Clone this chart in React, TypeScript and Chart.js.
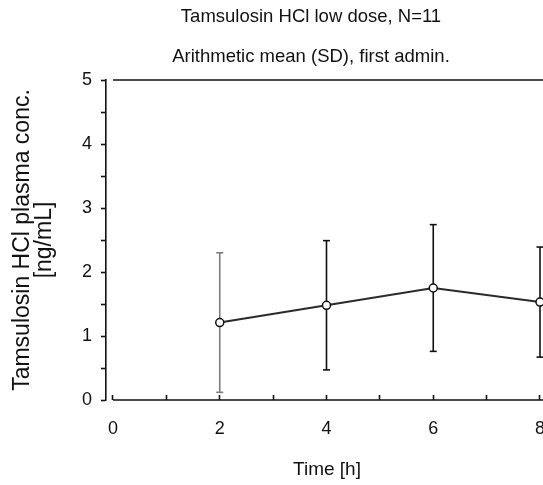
import React, { useEffect, useRef } from 'react';
import { Chart, registerables } from 'chart.js';

Chart.register(...registerables);

const titleText = 'Tamsulosin HCl low dose, N=11';
const subtitleText = 'Arithmetic mean (SD), first admin.';
const yTitleLines = ['Tamsulosin HCl plasma conc.', '[ng/mL]'];
const xTitleText = 'Time [h]';

const times = [2, 4, 6, 8];
const means = [1.21, 1.48, 1.75, 1.53];
const sds = [1.09, 1.01, 0.99, 0.86];
const errorColors = ['#7c7c7c', '#111111', '#111111', '#111111'];

const xLabelledTicks = [0, 2, 4, 6, 8];
const yLabelledTicks = [0, 1, 2, 3, 4, 5];

const FONT = '"Liberation Sans", Arial, Helvetica, sans-serif';

const framePlugin = {
  id: 'frameLines',
  beforeDatasetsDraw(chart: any) {
    const { ctx, chartArea } = chart;
    const x0 = chart.scales.x.getPixelForValue(0);
    ctx.save();
    ctx.strokeStyle = '#111111';
    ctx.lineWidth = 1.6;
    ctx.beginPath();
    ctx.moveTo(x0, chartArea.top);
    ctx.lineTo(chartArea.right, chartArea.top);
    ctx.moveTo(x0, chartArea.bottom);
    ctx.lineTo(chartArea.right, chartArea.bottom);
    ctx.stroke();
    ctx.restore();
  },
};

export default function App() {
  const canvasRef = useRef<HTMLCanvasElement | null>(null);

  useEffect(() => {
    const canvas = canvasRef.current;
    if (!canvas) return;

    const errorDatasets = times.map((t, i) => ({
      type: 'line' as const,
      data: [
        { x: t, y: means[i] - sds[i] },
        { x: t, y: means[i] + sds[i] },
      ],
      borderColor: errorColors[i],
      borderWidth: 1.6,
      pointStyle: 'line' as const,
      pointRadius: 3.5,
      pointBorderWidth: 1.6,
      pointBorderColor: errorColors[i],
      pointBackgroundColor: errorColors[i],
      fill: false,
      order: 2,
      clip: false as any,
    }));

    const meanDataset = {
      type: 'line' as const,
      data: times.map((t, i) => ({ x: t, y: means[i] })),
      borderColor: '#2a2a2a',
      borderWidth: 2,
      pointStyle: 'circle' as const,
      pointRadius: 4,
      pointBorderWidth: 1.5,
      pointBorderColor: '#111111',
      pointBackgroundColor: '#ffffff',
      fill: false,
      order: 1,
      clip: false as any,
    };

    const chart = new Chart(canvas, {
      type: 'line',
      data: { datasets: [meanDataset, ...errorDatasets] as any },
      plugins: [framePlugin],
      options: {
        animation: false,
        responsive: false,
        devicePixelRatio: 1,
        layout: { padding: 0 },
        plugins: {
          legend: { display: false },
          tooltip: { enabled: false },
          title: {
            display: true,
            text: titleText,
            color: '#111111',
            font: { family: FONT, size: 18.5, weight: 'normal', lineHeight: 1.2 },
            padding: { top: 6, bottom: 10 },
          },
          subtitle: {
            display: true,
            text: subtitleText,
            color: '#111111',
            font: { family: FONT, size: 18.5, weight: 'normal', lineHeight: 1.2 },
            padding: { top: 8, bottom: 11.6 },
          },
        },
        scales: {
          x: {
            type: 'linear',
            position: 'bottom',
            min: -0.131,
            max: 8.15,
            afterBuildTicks: (s: any) => {
              s.ticks = s.ticks.filter((t: any) => t.value >= -0.0001 && t.value <= 8.0001);
            },
            afterFit: (s: any) => {
              s.height = 85;
            },
            border: { display: false },
            grid: {
              display: true,
              drawOnChartArea: false,
              drawTicks: true,
              tickLength: -5,
              tickWidth: 1.6,
              tickColor: '#111111',
            },
            ticks: {
              stepSize: 1,
              includeBounds: false,
              autoSkip: false,
              maxRotation: 0,
              padding: 23,
              color: '#111111',
              font: { family: FONT, size: 18 },
              callback: (v: any) => (xLabelledTicks.includes(Math.round(Number(v) * 1000) / 1000) ? String(Math.round(Number(v))) : ''),
            },
            title: {
              display: true,
              text: xTitleText,
              color: '#111111',
              font: { family: FONT, size: 19, lineHeight: 1.2 },
              padding: { top: 0, bottom: 3.6 },
            },
          },
          y: {
            type: 'linear',
            position: 'left',
            min: 0,
            max: 5,
            afterFit: (s: any) => {
              s.width = 106;
            },
            border: { display: true, color: '#111111', width: 1.6 },
            grid: {
              display: true,
              drawOnChartArea: false,
              drawTicks: true,
              tickLength: 5,
              tickWidth: 1.6,
              tickColor: '#111111',
            },
            ticks: {
              stepSize: 0.5,
              autoSkip: false,
              padding: 9,
              color: '#111111',
              font: { family: FONT, size: 18 },
              callback: (v: any) => (yLabelledTicks.includes(Number(v)) ? String(v) : ''),
            },
            title: {
              display: true,
              text: yTitleLines,
              color: '#111111',
              font: { family: FONT, size: 23, lineHeight: 0.96 },
              padding: { top: 11.5, bottom: 0 },
            },
          },
          yRight: {
            type: 'linear',
            position: 'right',
            min: 0,
            max: 1,
            afterFit: (s: any) => {
              s.width = 74;
            },
            border: { display: false },
            grid: { display: false },
            ticks: { display: false },
          },
        },
      } as any,
    });

    return () => {
      chart.destroy();
    };
  }, []);

  return (
    <div
      style={{
        position: 'fixed',
        left: 0,
        top: 0,
        width: 543,
        height: 485,
        overflow: 'hidden',
        background: '#ffffff',
      }}
    >
      <canvas
        ref={canvasRef}
        width={622}
        height={485}
        style={{ width: 622, height: 485, display: 'block' }}
      />
    </div>
  );
}
